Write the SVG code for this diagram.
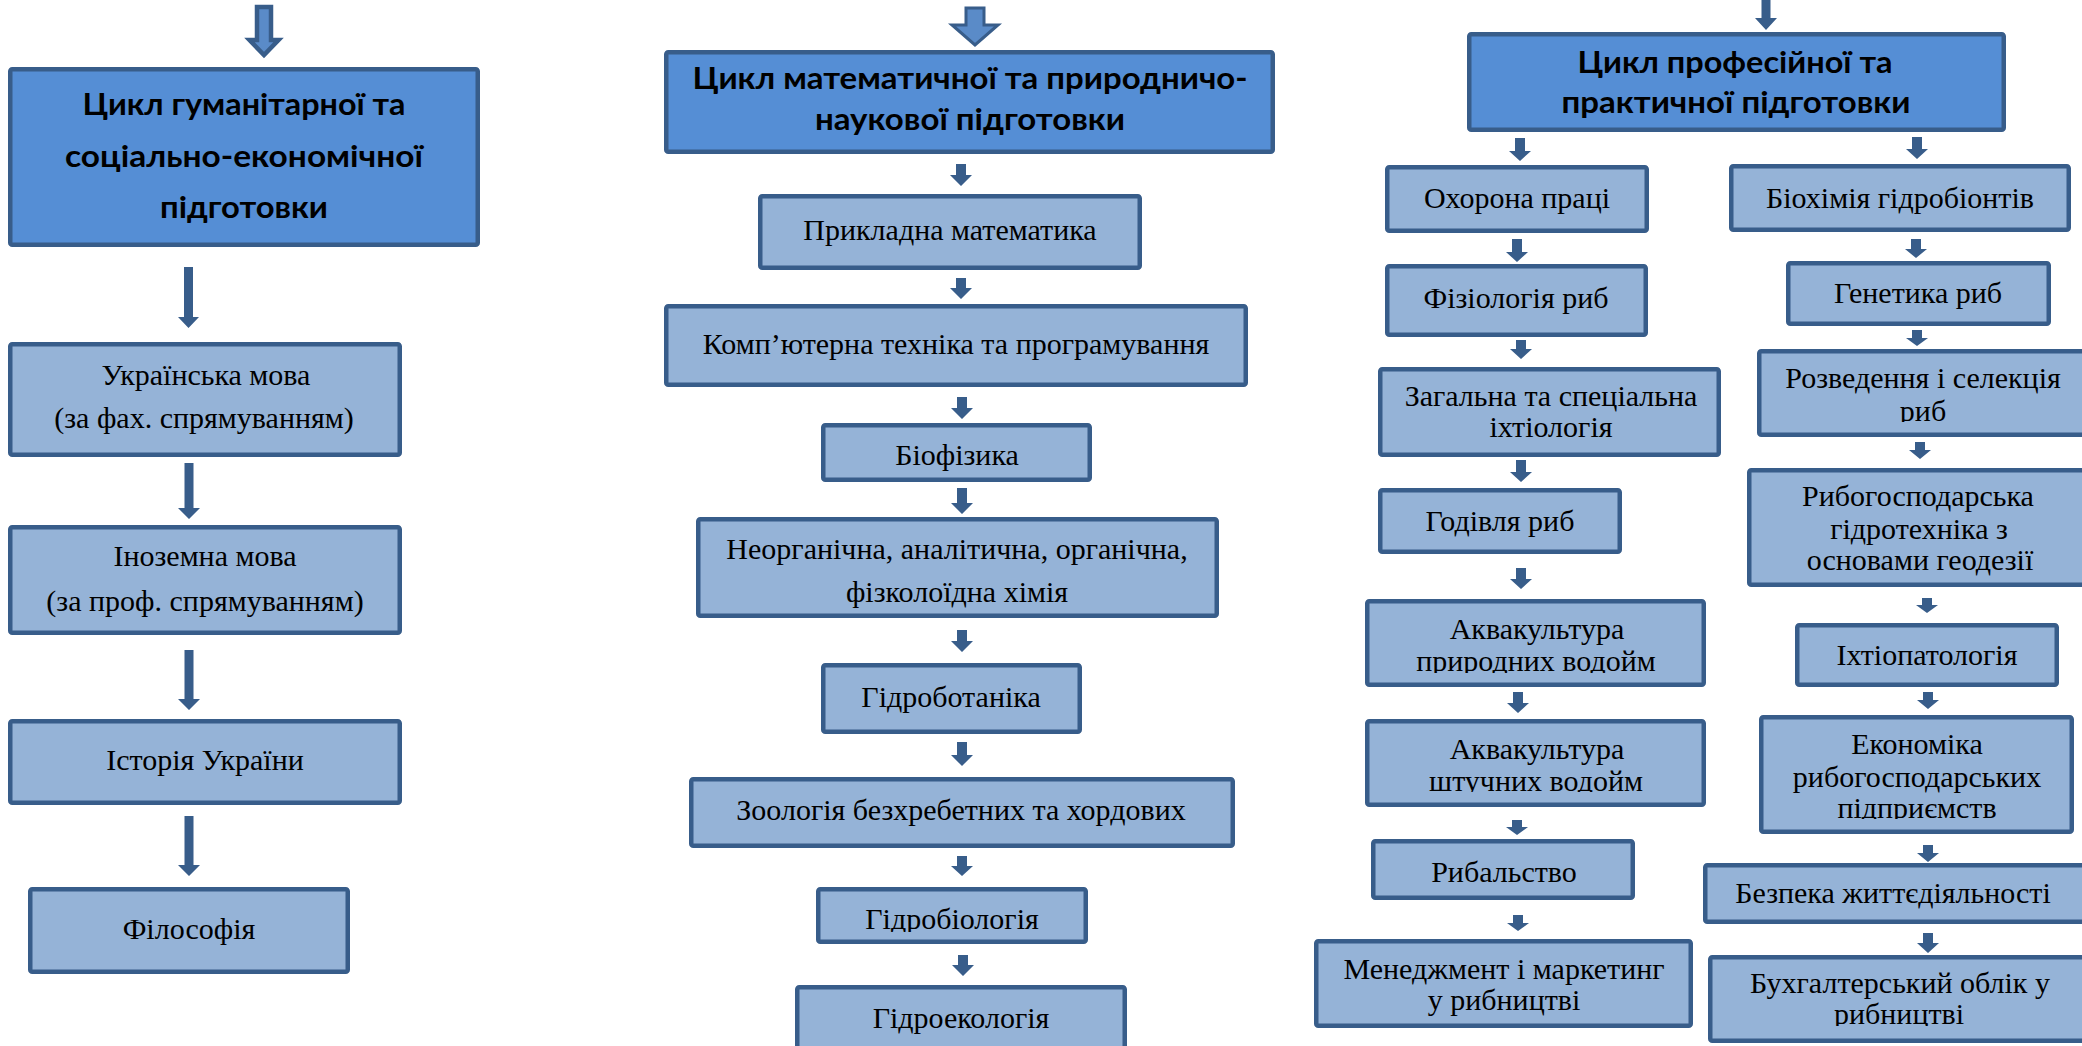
<svg xmlns="http://www.w3.org/2000/svg" width="2082" height="1046" viewBox="0 0 2082 1046">
<style>
.hd{fill:#558ED5;stroke:#385D8A;stroke-width:4.5}
.bx{fill:#95B3D7;stroke:#385D8A;stroke-width:4.5}
.ht{font-family:Lato,"Open Sans",sans-serif;font-weight:bold;font-size:31px;fill:#000;text-anchor:middle}
.t{font-family:"Liberation Serif","Times New Roman",serif;font-size:30px;fill:#000;text-anchor:middle}
.ar{fill:#385D8A}
.ah{fill:#5A8BC8;stroke:#385D8A;stroke-width:3;stroke-linejoin:miter}
</style>
<defs>
<clipPath id="cM7"><rect x="800" y="880" width="300" height="52"/></clipPath>
<clipPath id="cA5"><rect x="1360" y="590" width="360" height="83"/></clipPath>
<clipPath id="cA6"><rect x="1360" y="710" width="360" height="82"/></clipPath>
<clipPath id="cB3"><rect x="1750" y="340" width="340" height="82"/></clipPath>
<clipPath id="cB6"><rect x="1750" y="705" width="340" height="114"/></clipPath>
<clipPath id="cB8"><rect x="1700" y="945" width="390" height="81"/></clipPath>
</defs>

<g id="connectors">
<polygon class="ah" style="stroke-width:4.5" points="257,7 271,7 271,40 278.5,40 264,55 249.5,40 257,40"/>
<polygon class="ar" points="184,267 193,267 193,317 199,317 188.5,328 178,317 184,317"/>
<polygon class="ar" points="184.5,463 193.5,463 193.5,508 200,508 189,519 178,508 184.5,508"/>
<polygon class="ar" points="184.5,650 193.5,650 193.5,699 200,699 189,710 178,699 184.5,699"/>
<polygon class="ar" points="184.5,816 193.5,816 193.5,865 200,865 189,876 178,865 184.5,865"/>

<polygon class="ah" points="966,8 984,8 984,25 998,25 975,45 952,25 966,25"/>
<polygon class="ar" points="956,164 966,164 966,175 972,175 961,186 950,175 956,175"/>
<polygon class="ar" points="956,278 966,278 966,288 972,288 961,299 950,288 956,288"/>
<polygon class="ar" points="957,397 967,397 967,408 973,408 962,419 951,408 957,408"/>
<polygon class="ar" points="957,488 967,488 967,503 973,503 962,514 951,503 957,503"/>
<polygon class="ar" points="957,630 967,630 967,641 973,641 962,652 951,641 957,641"/>
<polygon class="ar" points="957,742 967,742 967,755 973,755 962,766 951,755 957,755"/>
<polygon class="ar" points="957,856 967,856 967,866 973,866 962,876 951,866 957,866"/>
<polygon class="ar" points="958,955 968,955 968,965 974,965 963,976 952,965 958,965"/>

<polygon class="ar" points="1761.5,0 1770.5,0 1770.5,18 1777,18 1766,30 1755,18 1761.5,18"/>
<polygon class="ar" points="1515,138 1525,138 1525,151 1531,151 1520,161 1509,151 1515,151"/>
<polygon class="ar" points="1912,137 1922,137 1922,149 1928,149 1917,159 1906,149 1912,149"/>
<polygon class="ar" points="1512,239 1522,239 1522,252 1528,252 1517,262 1506,252 1512,252"/>
<polygon class="ar" points="1911,239 1921,239 1921,249 1927,249 1916,258 1905,249 1911,249"/>
<polygon class="ar" points="1516,340 1526,340 1526,349 1532,349 1521,359 1510,349 1516,349"/>
<polygon class="ar" points="1912,330 1922,330 1922,338 1928,338 1917,346 1906,338 1912,338"/>
<polygon class="ar" points="1516,460 1526,460 1526,472 1532,472 1521,482 1510,472 1516,472"/>
<polygon class="ar" points="1915,442 1925,442 1925,450 1931,450 1920,459 1909,450 1915,450"/>
<polygon class="ar" points="1516,568 1526,568 1526,579 1532,579 1521,589 1510,579 1516,579"/>
<polygon class="ar" points="1922,598 1932,598 1932,605 1938,605 1927,613 1916,605 1922,605"/>
<polygon class="ar" points="1513,692 1523,692 1523,703 1529,703 1518,713 1507,703 1513,703"/>
<polygon class="ar" points="1923,692 1933,692 1933,700 1939,700 1928,709 1917,700 1923,700"/>
<polygon class="ar" points="1512,820 1522,820 1522,827 1528,827 1517,835 1506,827 1512,827"/>
<polygon class="ar" points="1923,845 1933,845 1933,853 1939,853 1928,862 1917,853 1923,853"/>
<polygon class="ar" points="1513,915 1523,915 1523,923 1529,923 1518,931 1507,923 1513,923"/>
<polygon class="ar" points="1923,933 1933,933 1933,943 1939,943 1928,953 1917,943 1923,943"/>
</g>

<g id="h1"><rect class="hd" x="10.25" y="69.25" width="467.5" height="175.5" rx="2"/>
<text class="ht" x="244" y="115" textLength="323" lengthAdjust="spacingAndGlyphs">Цикл гуманітарної та</text>
<text class="ht" x="244" y="167" textLength="358" lengthAdjust="spacingAndGlyphs">соціально-економічної</text>
<text class="ht" x="244" y="218" textLength="168" lengthAdjust="spacingAndGlyphs">підготовки</text></g>
<g id="l1"><rect class="bx" x="10.25" y="344.25" width="389.5" height="110.5" rx="2"/>
<text class="t" x="206" y="385">Українська мова</text><text class="t" x="204" y="428">(за фах. спрямуванням)</text></g>
<g id="l2"><rect class="bx" x="10.25" y="527.25" width="389.5" height="105.5" rx="2"/>
<text class="t" x="205" y="566">Іноземна мова</text><text class="t" x="205" y="611">(за проф. спрямуванням)</text></g>
<g id="l3"><rect class="bx" x="10.25" y="721.25" width="389.5" height="81.5" rx="2"/>
<text class="t" x="205" y="770">Історія України</text></g>
<g id="l4"><rect class="bx" x="30.25" y="889.25" width="317.5" height="82.5" rx="2"/>
<text class="t" x="189" y="939">Філософія</text></g>

<g id="h2"><rect class="hd" x="666.25" y="52.25" width="606.5" height="99.5" rx="2"/>
<text class="ht" x="970" y="89" textLength="555" lengthAdjust="spacingAndGlyphs">Цикл математичної та природничо-</text>
<text class="ht" x="970" y="130" textLength="310" lengthAdjust="spacingAndGlyphs">наукової підготовки</text></g>
<g id="m1"><rect class="bx" x="760.25" y="196.25" width="379.5" height="71.5" rx="2"/>
<text class="t" x="950" y="240">Прикладна математика</text></g>
<g id="m2"><rect class="bx" x="666.25" y="306.25" width="579.5" height="78.5" rx="2"/>
<text class="t" x="956" y="354">Комп’ютерна техніка та програмування</text></g>
<g id="m3"><rect class="bx" x="823.25" y="425.25" width="266.5" height="54.5" rx="2"/>
<text class="t" x="957" y="465">Біофізика</text></g>
<g id="m4"><rect class="bx" x="698.25" y="519.25" width="518.5" height="96.5" rx="2"/>
<text class="t" x="957" y="559">Неорганічна, аналітична, органічна,</text><text class="t" x="957" y="602">фізколоїдна хімія</text></g>
<g id="m5"><rect class="bx" x="823.25" y="665.25" width="256.5" height="66.5" rx="2"/>
<text class="t" x="951" y="707">Гідроботаніка</text></g>
<g id="m6"><rect class="bx" x="691.25" y="779.25" width="541.5" height="66.5" rx="2"/>
<text class="t" x="961" y="820">Зоологія безхребетних та хордових</text></g>
<g id="m7"><rect class="bx" x="818.25" y="889.25" width="267.5" height="52.5" rx="2"/>
<text class="t" x="952" y="929" clip-path="url(#cM7)">Гідробіологія</text></g>
<g id="m8"><rect class="bx" x="797.25" y="987.25" width="327.5" height="80" rx="2"/>
<text class="t" x="961" y="1028">Гідроекологія</text></g>

<g id="h3"><rect class="hd" x="1469.25" y="34.25" width="534.5" height="95.5" rx="2"/>
<text class="ht" x="1735" y="73" textLength="315" lengthAdjust="spacingAndGlyphs">Цикл професійної та</text>
<text class="ht" x="1736" y="113" textLength="349" lengthAdjust="spacingAndGlyphs">практичної підготовки</text></g>
<g id="a1"><rect class="bx" x="1387.25" y="167.25" width="259.5" height="63.5" rx="2"/>
<text class="t" x="1517" y="208">Охорона праці</text></g>
<g id="a2"><rect class="bx" x="1387.25" y="266.25" width="258.5" height="68.5" rx="2"/>
<text class="t" x="1516" y="308">Фізіологія риб</text></g>
<g id="a3"><rect class="bx" x="1380.25" y="369.25" width="338.5" height="85.5" rx="2"/>
<text class="t" x="1551" y="406">Загальна та спеціальна</text><text class="t" x="1551" y="437">іхтіологія</text></g>
<g id="a4"><rect class="bx" x="1380.25" y="490.25" width="239.5" height="61.5" rx="2"/>
<text class="t" x="1500" y="531">Годівля риб</text></g>
<g id="a5"><rect class="bx" x="1367.25" y="601.25" width="336.5" height="83.5" rx="2"/>
<g clip-path="url(#cA5)"><text class="t" x="1537" y="639">Аквакультура</text><text class="t" x="1536" y="671">природних водойм</text></g></g>
<g id="a6"><rect class="bx" x="1367.25" y="721.25" width="336.5" height="83.5" rx="2"/>
<g clip-path="url(#cA6)"><text class="t" x="1537" y="759">Аквакультура</text><text class="t" x="1536" y="791">штучних водойм</text></g></g>
<g id="a7"><rect class="bx" x="1373.25" y="841.25" width="259.5" height="56.5" rx="2"/>
<text class="t" x="1504" y="882">Рибальство</text></g>
<g id="a8"><rect class="bx" x="1316.25" y="941.25" width="374.5" height="84.5" rx="2"/>
<text class="t" x="1504" y="979">Менеджмент і маркетинг</text><text class="t" x="1504" y="1010">у рибництві</text></g>

<g id="b1"><rect class="bx" x="1731.25" y="166.25" width="337.5" height="63.5" rx="2"/>
<text class="t" x="1900" y="208">Біохімія гідробіонтів</text></g>
<g id="b2"><rect class="bx" x="1788.25" y="263.25" width="260.5" height="60.5" rx="2"/>
<text class="t" x="1918" y="303">Генетика риб</text></g>
<g id="b3"><rect class="bx" x="1759.25" y="351.25" width="340" height="83.5" rx="2"/>
<g clip-path="url(#cB3)"><text class="t" x="1923" y="388">Розведення і селекція</text><text class="t" x="1923" y="421">риб</text></g></g>
<g id="b4"><rect class="bx" x="1749.25" y="470.25" width="350" height="114.5" rx="2"/>
<text class="t" x="1918" y="506">Рибогосподарська</text><text class="t" x="1919" y="539">гідротехніка з</text><text class="t" x="1920" y="570">основами геодезії</text></g>
<g id="b5"><rect class="bx" x="1797.25" y="625.25" width="259.5" height="59.5" rx="2"/>
<text class="t" x="1927" y="665">Іхтіопатологія</text></g>
<g id="b6"><rect class="bx" x="1761.25" y="717.25" width="310.5" height="114.5" rx="2"/>
<g clip-path="url(#cB6)"><text class="t" x="1917" y="754">Економіка</text><text class="t" x="1917" y="787">рибогосподарських</text><text class="t" x="1917" y="818">підприємств</text></g></g>
<g id="b7"><rect class="bx" x="1705.25" y="865.25" width="400" height="56.5" rx="2"/>
<text class="t" x="1893" y="903">Безпека життєдіяльності</text></g>
<g id="b8"><rect class="bx" x="1710.25" y="957.25" width="400" height="83.5" rx="2"/>
<g clip-path="url(#cB8)"><text class="t" x="1900" y="993">Бухгалтерський облік у</text><text class="t" x="1899" y="1024">рибництві</text></g></g>
</svg>
